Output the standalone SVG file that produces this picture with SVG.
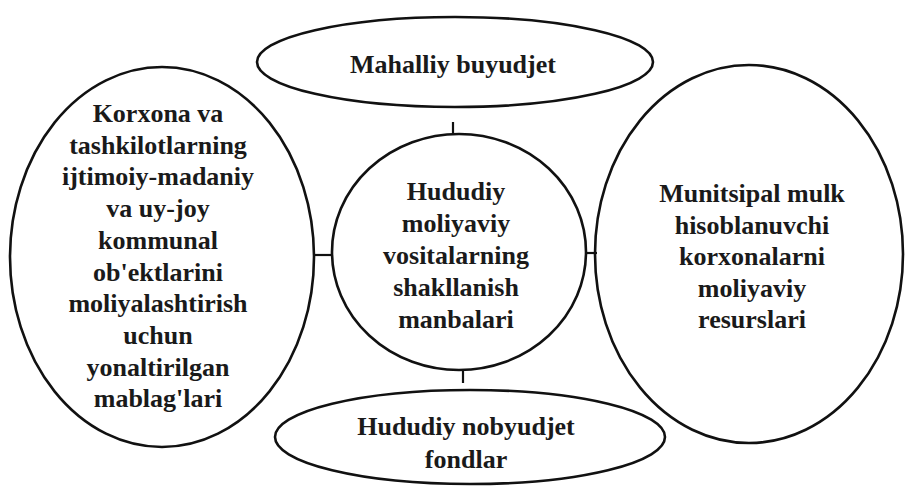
<svg xmlns="http://www.w3.org/2000/svg" width="905" height="487" viewBox="0 0 905 487">
<style>
.shape{fill:none;stroke:#111;stroke-width:2.6}
.con{stroke:#111;stroke-width:2.2;fill:none}
.t{font-family:'Liberation Serif','Tinos','DejaVu Serif',serif;font-weight:700;font-size:26px;fill:#1a1a1a;text-anchor:middle}
</style>
<rect width="905" height="487" fill="#fff"/>
<g id="connectors">
<line class="con" x1="453" y1="122" x2="453" y2="135"/>
<line class="con" x1="463" y1="370" x2="463" y2="383"/>
<line class="con" x1="314" y1="255" x2="332" y2="255"/>
<line class="con" x1="587" y1="253" x2="597" y2="253"/>
</g>
<g id="top">
<ellipse class="shape" cx="455" cy="62" rx="198" ry="45"/>
<text class="t" x="453" y="73" font-family="Liberation Serif, serif">Mahalliy buyudjet</text>
</g>
<g id="center">
<ellipse class="shape" cx="459" cy="252" rx="127" ry="118"/>
<text class="t" x="456" y="200">Hududiy</text>
<text class="t" x="456" y="232">moliyaviy</text>
<text class="t" x="456" y="264">vositalarning</text>
<text class="t" x="456" y="296">shakllanish</text>
<text class="t" x="456" y="328">manbalari</text>
</g>
<g id="left">
<ellipse class="shape" cx="162" cy="257" rx="152" ry="190"/>
<text class="t" x="158" y="122">Korxona va</text>
<text class="t" x="158" y="153.7">tashkilotlarning</text>
<text class="t" x="158" y="185.4">ijtimoiy-madaniy</text>
<text class="t" x="158" y="217.1">va uy-joy</text>
<text class="t" x="158" y="248.8">kommunal</text>
<text class="t" x="158" y="280.5">ob'ektlarini</text>
<text class="t" x="158" y="312.2">moliyalashtirish</text>
<text class="t" x="158" y="343.9">uchun</text>
<text class="t" x="158" y="375.6">yonaltirilgan</text>
<text class="t" x="158" y="407.3">mablag'lari</text>
</g>
<g id="right">
<ellipse class="shape" cx="749" cy="254" rx="154" ry="189"/>
<text class="t" x="752" y="202">Munitsipal mulk</text>
<text class="t" x="752" y="233.5">hisoblanuvchi</text>
<text class="t" x="752" y="265">korxonalarni</text>
<text class="t" x="752" y="296.5">moliyaviy</text>
<text class="t" x="752" y="328">resurslari</text>
</g>
<g id="bottom">
<ellipse class="shape" cx="470" cy="437" rx="195" ry="47"/>
<text class="t" x="466" y="435">Hududiy nobyudjet</text>
<text class="t" x="466" y="468">fondlar</text>
</g>
</svg>
